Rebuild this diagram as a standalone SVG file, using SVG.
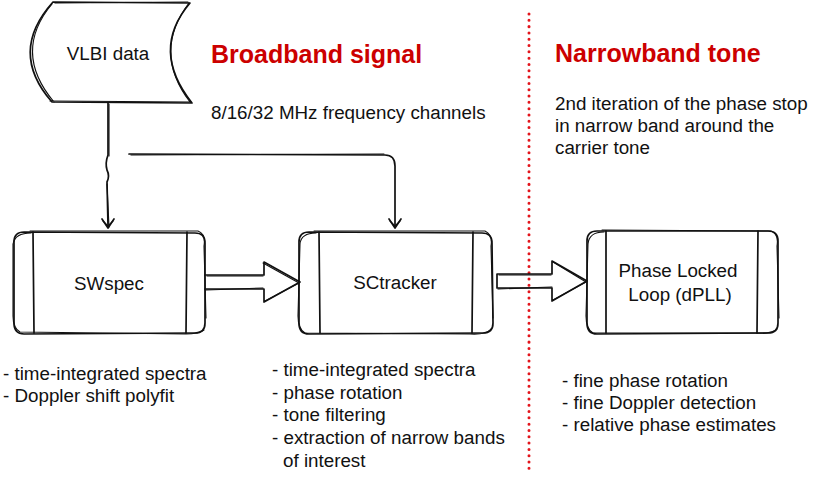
<svg xmlns="http://www.w3.org/2000/svg" width="830" height="477" viewBox="0 0 830 477">
<style>
.sk{fill:none;stroke:#111;stroke-width:1.7;stroke-linecap:round;stroke-linejoin:round}
.sk2{fill:none;stroke:#111;stroke-width:1.1;stroke-linecap:round;stroke-linejoin:round}
.t{font-family:"Liberation Sans",Arial,sans-serif;font-size:18.8px;fill:#111}
.h{font-family:"Liberation Sans",Arial,sans-serif;font-size:25px;font-weight:bold;fill:#cc0000}
.c{text-anchor:middle}
</style>
<rect width="830" height="477" fill="#fff"/>

<g id="divider">
<line x1="529" y1="14" x2="529" y2="472" stroke="#e3141b" stroke-width="3" stroke-linecap="round" stroke-dasharray="0.01 6.3"/>
</g>

<g id="titles">
<text class="h" x="211" y="63">Broadband signal</text>
<text class="h" x="555" y="62">Narrowband tone</text>
<text class="t" x="211" y="119">8/16/32 MHz frequency channels</text>
<text class="t" x="555" y="110">2nd iteration of the phase stop</text>
<text class="t" x="555" y="132">in narrow band around the</text>
<text class="t" x="555" y="154">carrier tone</text>
</g>

<g id="vlbi">
<path class="sk" d="M53,2 L190,3 Q150,50 192,103 L52,102 Q8,52 53,2 Z"/>
<path class="sk2" d="M55,3 L188,2 M50,101 L191,102 M52,4 Q12,52 54,102 M189,3 Q152,52 190,102"/>
<text class="t c" x="108" y="60">VLBI data</text>
</g>

<g id="swspec">
<path class="sk" d="M24,232 L195,233 Q205,233 205,243 L205,323 Q205,333 195,333 L24,334 Q14,334 14,323 L14,242 Q14,232 24,232 Z"/>
<path class="sk2" d="M30,231 L198,231 Q206,234 204,246 L206,318 M204,330 Q198,334 186,334 L20,332 Q13,328 13,316 L13,244 Q15,233 31,233"/>
<path class="sk" d="M33,232 L34,333 M187,232 L186,333"/>
<text class="t c" x="109" y="290">SWspec</text>
</g>

<g id="sctracker">
<path class="sk" d="M309,232 L482,233 Q492,233 492,243 L493,323 Q493,333 483,333 L309,334 Q299,334 299,323 L299,242 Q299,232 309,232 Z"/>
<path class="sk2" d="M314,231 L485,231 Q493,235 491,246 L493,318 M491,329 Q486,335 470,334 L305,333 Q298,329 298,316 L300,244 Q301,233 316,233"/>
<path class="sk" d="M319,232 L320,333 M473,232 L472,333"/>
<text class="t c" x="395" y="289">SCtracker</text>
</g>

<g id="pll">
<path class="sk" d="M597,231 L768,231 Q778,231 778,241 L778,323 Q778,333 768,333 L597,334 Q587,334 587,323 L587,241 Q587,231 597,231 Z"/>
<path class="sk2" d="M602,230 L771,231 Q779,234 777,246 L779,318 M777,329 Q772,334 756,333 L593,333 Q586,329 586,316 L588,244 Q589,232 604,232"/>
<path class="sk" d="M606,231 L606,333 M758,231 L757,333"/>
<text class="t c" x="678" y="277">Phase Locked</text>
<text class="t c" x="680" y="301">Loop (dPLL)</text>
</g>

<g id="connectors">
<path class="sk" d="M108,103 L108,155 Q105,163 107,170 Q110,176 107,182 L108,226"/>
<path class="sk2" d="M109,104 L109,156 M107,184 L109,227"/>
<path class="sk" d="M102,219 L108,228 L114,219"/>
<path class="sk2" d="M103,221 L108,226 L113,221"/>
<path class="sk" d="M129,154 L385,155 Q395,155 395,166 L395,226"/>
<path class="sk2" d="M131,155 L384,154"/>
<path class="sk" d="M389,219 L395,228 L401,219"/>
<path class="sk2" d="M390,221 L395,226 L400,221"/>
<path class="sk" d="M205,275 L264,275 L264,262 L300,282 L264,302 L264,289 L205,289"/>
<path class="sk2" d="M207,276 L263,276 M263,263 L299,283 L265,301 M206,290 L263,288"/>
<path class="sk" d="M497,274 L552,274 L552,261 L587,281 L552,301 L552,288 L497,288 Z"/>
<path class="sk2" d="M499,275 L551,275 M553,262 L586,282 L553,300 M498,289 L552,287"/>
</g>

<g id="notes">
<text class="t" x="3" y="380">- time-integrated spectra</text>
<text class="t" x="3" y="402">- Doppler shift polyfit</text>
<text class="t" x="272" y="376">- time-integrated spectra</text>
<text class="t" x="272" y="399">- phase rotation</text>
<text class="t" x="272" y="421">- tone filtering</text>
<text class="t" x="272" y="444">- extraction of narrow bands</text>
<text class="t" x="283" y="467">of interest</text>
<text class="t" x="562" y="387">- fine phase rotation</text>
<text class="t" x="562" y="409">- fine Doppler detection</text>
<text class="t" x="562" y="431">- relative phase estimates</text>
</g>
</svg>
